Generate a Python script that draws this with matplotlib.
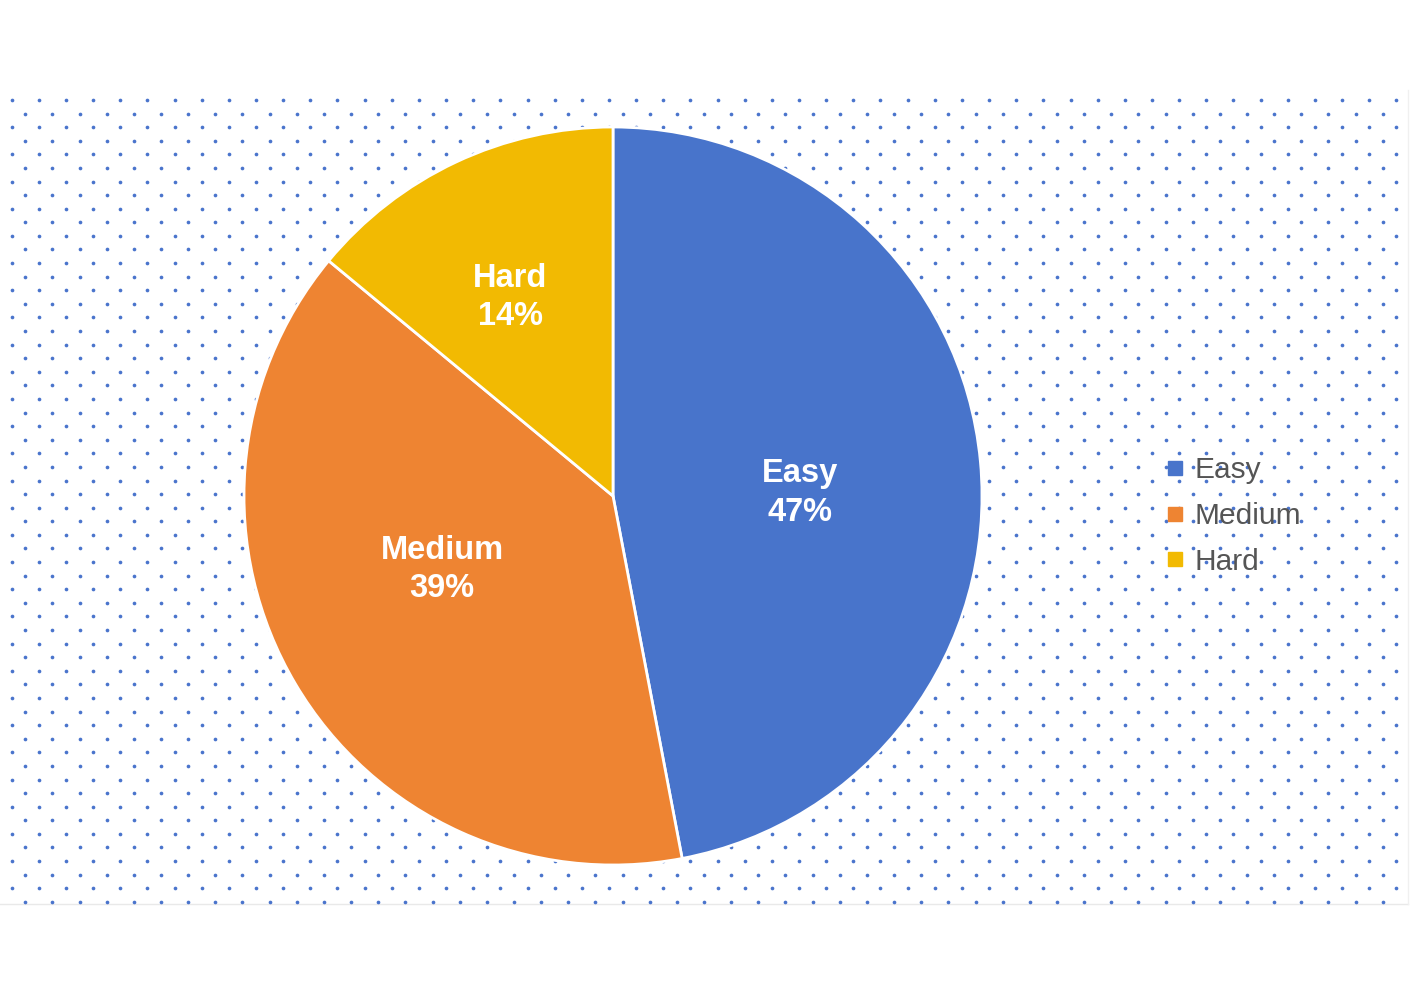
import numpy as np
import matplotlib
matplotlib.use("Agg")
import matplotlib.pyplot as plt
from matplotlib.lines import Line2D

plt.rcParams['font.family'] = ['Liberation Sans', 'DejaVu Sans']

# data
labels = ['Easy', 'Medium', 'Hard']
values = [47, 39, 14]
colors = ['#4874CB', '#EE8432', '#F2BA02']
# label centres inside the pie, in units of the radius
label_pos = [(0.507, 0.008), (-0.463, -0.20), (-0.279, 0.539)]

W, H = 1412, 998
fig = plt.figure(figsize=(W / 100, H / 100), dpi=100)

# background with the dotted pattern (pixel coordinates)
bg = fig.add_axes([0, 0, 1, 1])
bg.set_xlim(0, W)
bg.set_ylim(H, 0)
bg.axis('off')

dx, dy = 27.15, 13.59
xs, ys = [], []
for r in range(60):
    x0 = 11.7 if r % 2 == 0 else 11.7 + dx / 2
    cols = np.arange(x0, 1405, dx)
    xs.extend(cols)
    ys.extend([100 + r * dy] * len(cols))
bg.scatter(xs, ys, s=7, color='#4A74CC', linewidths=0, zorder=1)
bg.plot([0, 1408], [904, 904], color='#e9e9e9', lw=1, zorder=0)
bg.plot([1408, 1408], [90, 904], color='#f0f0f0', lw=1, zorder=0)

# pie
cx, cy, rad = 613, 496, 369
ax = fig.add_axes([(cx - rad) / W, (H - cy - rad) / H, 2 * rad / W, 2 * rad / H])
ax.patch.set_alpha(0)
wedges, texts, autotexts = ax.pie(values, colors=colors, startangle=90, counterclock=False,
                                  autopct='%d%%', pctdistance=0.52,
                                  wedgeprops=dict(edgecolor='white', linewidth=2))
for t, name, v, pos in zip(autotexts, labels, values, label_pos):
    t.set_text(f"{name}\n{v}%")
    t.set_position(pos)
    t.set_color('white')
    t.set_fontweight('bold')
    t.set_fontsize(23.5)
    t.set_linespacing(1.3)
ax.set_xlim(-1, 1)
ax.set_ylim(-1, 1)
ax.set_aspect('equal', adjustable='box')
ax.axis('off')

# legend
handles = [Line2D([], [], marker='s', linestyle='none', markersize=10.5, color=c) for c in colors]
leg = fig.legend(handles, labels, loc='center left', bbox_to_anchor=(1145 / W, 1 - 516 / H),
                 frameon=False, fontsize=21.5, labelspacing=0.6, handletextpad=0.15,
                 handlelength=1.0, borderpad=0)
for t in leg.get_texts():
    t.set_color('#555555')

fig.savefig('out.png', dpi=100)
